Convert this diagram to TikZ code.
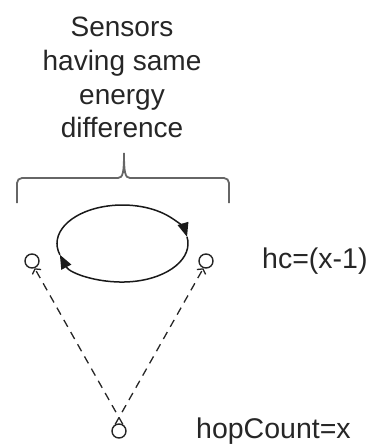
\documentclass[tikz,border=0pt]{standalone}
\usepackage{fontspec}
\setmainfont{Liberation Sans}
\usetikzlibrary{arrows.meta}
\begin{document}
\begin{tikzpicture}[x=1pt,y=-1pt,
  lbl/.style={font=\fontsize{28}{34}\selectfont, text=black!85, inner sep=0pt},
  sensor/.style={circle, draw=black!85, line width=1.4pt, minimum size=14pt, inner sep=0pt},
  loop/.style={line width=1.5pt, draw=black!90, -{Triangle[length=14pt,width=11pt]}},
  link/.style={line width=1.3pt, draw=black!85, dash pattern=on 8pt off 6pt, -{Straight Barb[length=3.5pt,width=10pt]}},
  bracecol/.style={draw=black!60, line width=1.8pt}]
\useasboundingbox (0,0) rectangle (371,447);
\node[lbl, anchor=base] (t1) at (122,36) {Sensors};
\node[lbl, anchor=base] (t2) at (122,70) {having same};
\node[lbl, anchor=base] (t3) at (122,104) {energy};
\node[lbl, anchor=base] (t4) at (122,137) {difference};
% brace
\draw[bracecol] (17,203) -- (17,183) arc[start angle=180, end angle=270, radius=5] -- (118,178)
  .. controls (123,178) and (124,172) .. (124,153)
  .. controls (124,172) and (125,178) .. (130,178)
  -- (224,178) arc[start angle=270, end angle=360, radius=5] -- (229,203);
% sensors
\node[sensor] (L) at (32,261) {};
\node[sensor] (R) at (206,261) {};
\node[sensor] (B) at (119,431) {};
\coordinate (C) at (122.5,243.5);
% loop
\draw[loop] ([shift={(163:65.5 and 38.5)}]C) arc[start angle=163, end angle=350, x radius=65.5, y radius=38.5];
\draw[loop] ([shift={(350:65.5 and 38.5)}]C) arc[start angle=350, end angle=523, x radius=65.5, y radius=38.5];
% links
\draw[link] (B.60) -- (L.-70);
\draw[link] (B.120) -- (R.-110);
% labels
\node[lbl, font=\fontsize{28.5}{34}\selectfont, anchor=base west] (hc) at (262,268) {hc=(x-1)};
\node[lbl, font=\fontsize{28.5}{34}\selectfont, anchor=base west] (hop) at (196,438) {hopCount=x};
\end{tikzpicture}
\end{document}
